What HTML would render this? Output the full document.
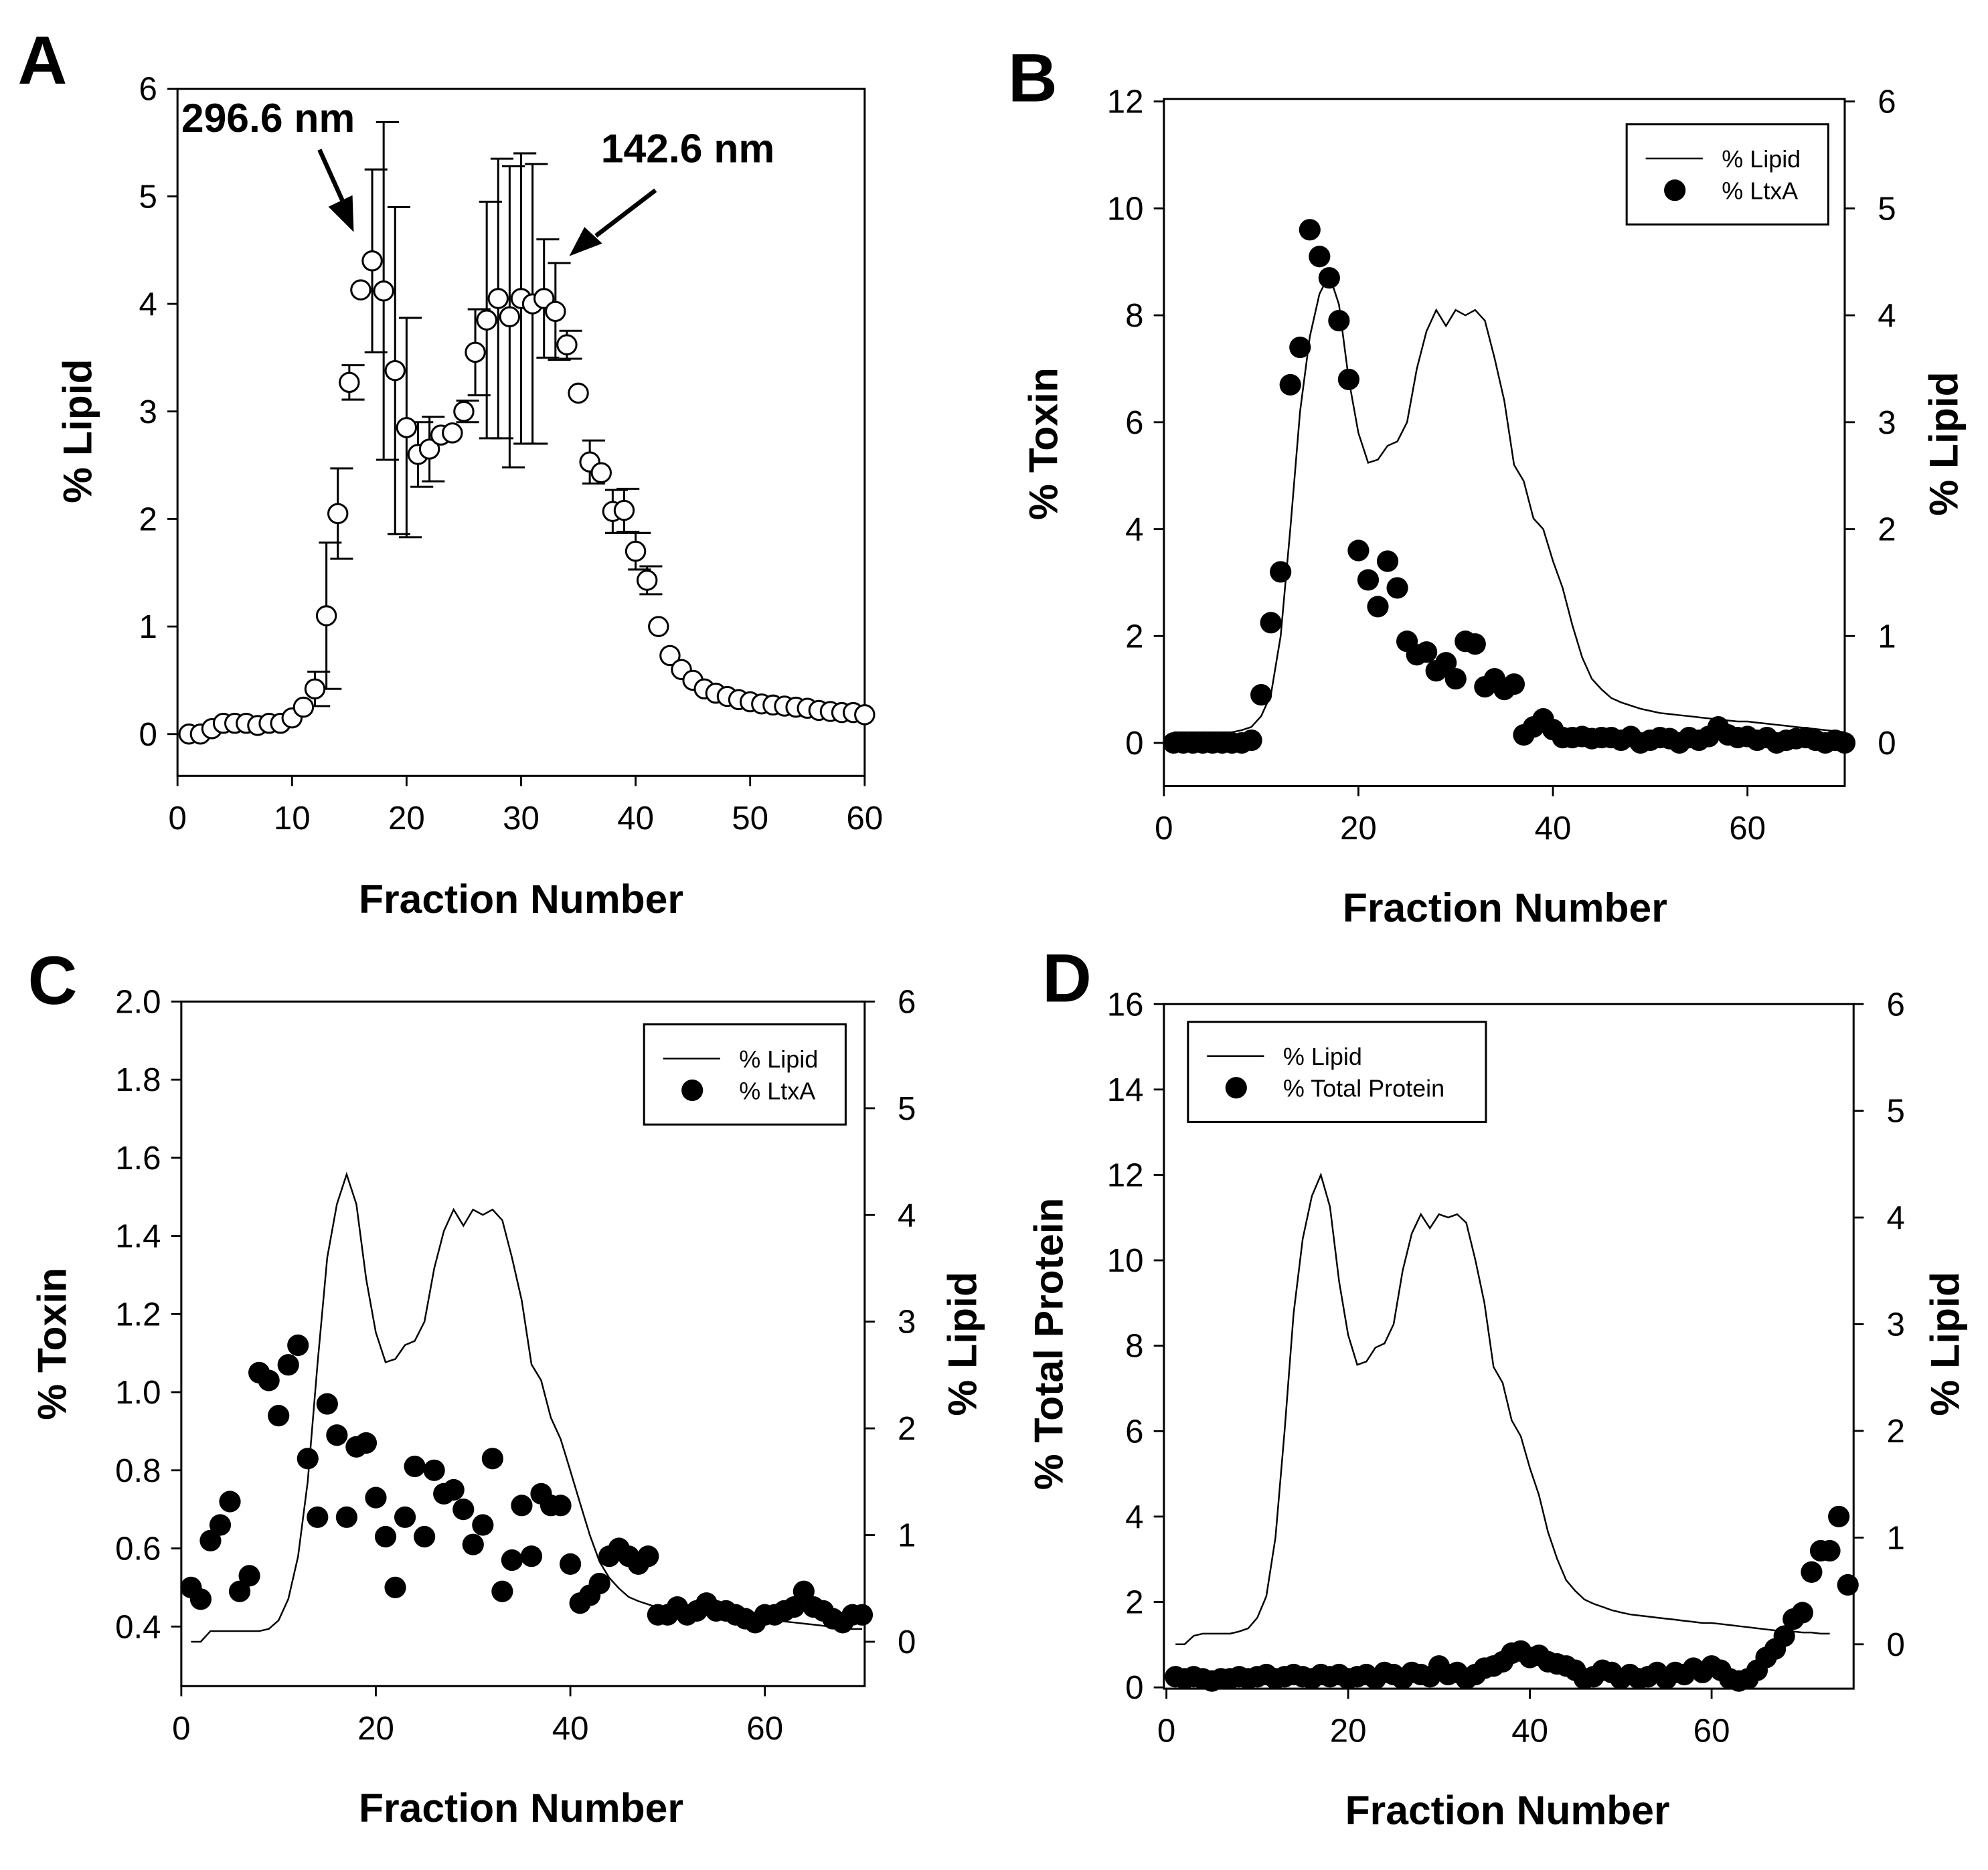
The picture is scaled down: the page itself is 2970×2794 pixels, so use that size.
<!DOCTYPE html>
<html><head><meta charset="utf-8"><style>
html,body{margin:0;padding:0;background:#fff;}
svg{display:block;}
text{font-family:"Liberation Sans",Arial,sans-serif;fill:#000;}
</style></head><body>
<svg id="fig" xmlns="http://www.w3.org/2000/svg" width="2970" height="2794" viewBox="0 0 1568 1475"></svg>
<script>
const fractionsA = Array.from({length:60},(_, i)=>i+1);
const lipidA = [0,0,0.05,0.1,0.1,0.1,0.08,0.1,0.1,0.15,0.25,0.42,1.1,2.05,3.27,4.13,4.4,4.12,3.38,2.85,2.6,2.65,2.78,2.8,3.0,3.55,3.85,4.05,3.88,4.05,4.0,4.05,3.93,3.62,3.17,2.53,2.43,2.07,2.08,1.7,1.43,1.0,0.73,0.6,0.5,0.42,0.38,0.35,0.32,0.3,0.28,0.27,0.26,0.25,0.24,0.22,0.21,0.2,0.2,0.18];
const errA = [0,0,0,0,0,0,0,0,0,0,0,0.16,0.68,0.42,0.16,0,0.85,1.57,1.52,1.02,0.3,0.3,0,0,0.1,0.4,1.1,1.3,1.4,1.35,1.3,0.55,0.45,0.13,0,0.2,0,0.2,0.2,0.17,0.13,0,0,0,0,0,0,0,0,0,0,0,0,0,0,0,0,0,0,0];
const lipidB = [0.1,0.1,0.1,0.1,0.1,0.1,0.1,0.12,0.15,0.25,0.45,1.0,2.0,3.1,3.8,4.2,4.38,4.1,3.4,2.9,2.62,2.65,2.78,2.82,3.0,3.5,3.85,4.05,3.9,4.05,4.0,4.05,3.95,3.6,3.2,2.6,2.45,2.1,2.0,1.7,1.45,1.1,0.8,0.6,0.5,0.42,0.38,0.35,0.32,0.3,0.28,0.27,0.26,0.25,0.24,0.23,0.22,0.21,0.2,0.2,0.19,0.18,0.17,0.16,0.15,0.14,0.13,0.12,0.11,0.1];
const toxinB = [0,0,0,0,0,0,0,0,0.05,0.9,2.25,3.2,6.7,7.4,9.6,9.1,8.7,7.9,6.8,3.6,3.05,2.55,3.4,2.9,1.9,1.65,1.7,1.35,1.5,1.2,1.9,1.85,1.05,1.2,1.0,1.1,0.15,0.3,0.45,0.25,0.1,0.1,0.12,0.08,0.1,0.1,0.05,0.12,0.0,0.05,0.1,0.08,0.0,0.1,0.05,0.12,0.3,0.15,0.1,0.12,0.05,0.1,0.0,0.05,0.08,0.1,0.05,0.0,0.05,0.0];
const lipidC = [0,0,0.1,0.1,0.1,0.1,0.1,0.1,0.12,0.2,0.4,0.8,1.5,2.6,3.6,4.1,4.38,4.1,3.4,2.9,2.62,2.65,2.78,2.82,3.0,3.5,3.85,4.05,3.9,4.05,4.0,4.05,3.95,3.6,3.2,2.6,2.45,2.1,1.9,1.6,1.3,1.0,0.75,0.6,0.5,0.42,0.38,0.35,0.32,0.3,0.28,0.27,0.26,0.25,0.24,0.23,0.22,0.22,0.21,0.2,0.2,0.19,0.18,0.17,0.16,0.15,0.14,0.13,0.12,0.12];
const toxinC = [0.5,0.47,0.62,0.66,0.72,0.49,0.53,1.05,1.03,0.94,1.07,1.12,0.83,0.68,0.97,0.89,0.68,0.86,0.87,0.73,0.63,0.5,0.68,0.81,0.63,0.8,0.74,0.75,0.7,0.61,0.66,0.83,0.49,0.57,0.71,0.58,0.74,0.71,0.71,0.56,0.46,0.48,0.51,0.58,0.6,0.58,0.56,0.58,0.43,0.43,0.45,0.43,0.44,0.46,0.44,0.44,0.43,0.42,0.41,0.43,0.43,0.44,0.45,0.49,0.45,0.44,0.42,0.41,0.43,0.43];
const lipidD = [0,0,0.08,0.1,0.1,0.1,0.1,0.12,0.15,0.25,0.45,1.0,2.0,3.1,3.8,4.2,4.4,4.1,3.4,2.9,2.62,2.65,2.78,2.82,3.0,3.5,3.85,4.03,3.9,4.03,4.0,4.03,3.95,3.6,3.2,2.6,2.45,2.1,1.95,1.65,1.4,1.05,0.8,0.6,0.5,0.42,0.38,0.35,0.32,0.3,0.28,0.27,0.26,0.25,0.24,0.23,0.22,0.21,0.2,0.2,0.19,0.18,0.17,0.16,0.15,0.14,0.13,0.12,0.12,0.11,0.11,0.1,0.1];
const proteinD = [0.25,0.2,0.25,0.2,0.15,0.2,0.2,0.25,0.2,0.25,0.3,0.2,0.25,0.3,0.25,0.2,0.3,0.25,0.3,0.2,0.25,0.3,0.2,0.35,0.3,0.2,0.35,0.3,0.25,0.5,0.3,0.35,0.2,0.3,0.45,0.5,0.6,0.8,0.85,0.7,0.75,0.6,0.55,0.5,0.4,0.2,0.25,0.4,0.35,0.2,0.3,0.2,0.25,0.35,0.2,0.35,0.3,0.45,0.35,0.5,0.4,0.2,0.15,0.2,0.4,0.7,0.9,1.2,1.6,1.75,2.7,3.2,3.2,4.0,2.4];
const ticksA = [0,10,20,30,40,50,60];
const ticksX70 = [0,20,40,60];

const svg = document.getElementById('fig');
const NS = 'http://www.w3.org/2000/svg';
function mk(tag, attrs, parent){ const e=document.createElementNS(NS,tag); for(const k in attrs) e.setAttribute(k,attrs[k]); (parent||svg).appendChild(e); return e; }
function lin(d0,d1,r0,r1){ return v=>r0+(v-d0)*(r1-r0)/(d1-d0); }
function txt(x,y,s,size,opts,parent){ const t=mk('text',Object.assign({x:x,y:y,'font-size':size},opts||{}),parent); t.textContent=s; return t; }

function frame(g,x0,y0,x1,y1){ const r=mk('rect',{x:x0,y:y0,width:x1-x0,height:y1-y0,fill:'none',stroke:'#000','stroke-width':1.6},g);   }
function xTicks(g,xs,ticks,yb){ ticks.forEach(v=>{ mk('line',{x1:xs(v),x2:xs(v),y1:yb,y2:yb+8,stroke:'#000','stroke-width':1.5},g); const t=txt(xs(v),yb+42,String(v),26,{'text-anchor':'middle'},g);   }); }
function yTicks(g,ys,ticks,x,side,fmt){ ticks.forEach(v=>{ const d=side<0?-8:8; mk('line',{x1:x,x2:x+d,y1:ys(v),y2:ys(v),stroke:'#000','stroke-width':1.5},g); const t=txt(side<0?x-16:x+26,ys(v)+9,fmt?fmt(v):String(v),26,{'text-anchor':side<0?'end':'start'},g);   }); }
function titles(g,cx,yb,ylx,yly,ylabel,yrx,yrlabel,letter,lx,ly){
  let t=txt(cx,yb,'Fraction Number',32,{'text-anchor':'middle','font-weight':'bold'},g);  
  t=txt(ylx,yly,ylabel,32,{'text-anchor':'middle','font-weight':'bold',transform:`rotate(-90 ${ylx} ${yly})`},g);  
  if(yrlabel){ t=txt(yrx,yly,yrlabel,32,{'text-anchor':'middle','font-weight':'bold',transform:`rotate(-90 ${yrx} ${yly})`},g);   }
  t=txt(lx,ly,letter,54,{'font-weight':'bold'},g);  
}
function lineSeries(g,xs,ys,vals){ const d=vals.map((v,i)=>(i?'L':'M')+xs(i+1).toFixed(1)+' '+ys(v).toFixed(1)).join(' '); const p=mk('path',{d:d,fill:'none',stroke:'#000','stroke-width':1.3},g);   }
function dots(g,xs,ys,vals,name){ vals.forEach((v,i)=>{ const c=mk('circle',{cx:xs(i+1),cy:ys(v),r:8.5,fill:'#000'},g);   }); }
function legend(g,x,y,w,h,l2){ const r=mk('rect',{x:x,y:y,width:w,height:h,fill:'#fff',stroke:'#000','stroke-width':1.6},g);  
  mk('line',{x1:x+15,x2:x+60,y1:y+27,y2:y+27,stroke:'#000','stroke-width':1.3},g);
  let t=txt(x+75,y+34,'% Lipid',19,{},g);  
  mk('circle',{cx:x+38,cy:y+52,r:8.5,fill:'#000'},g);
  t=txt(x+75,y+59,l2,19,{},g);   }

// Panel A
(function(){ const g=mk('g',{});  
  const xs=lin(0,60,140,682), ys=lin(0,6,579,70);
  frame(g,140,70,682,612); xTicks(g,xs,ticksA,612); yTicks(g,ys,[0,1,2,3,4,5,6],140,-1);
  lipidA.forEach((v,i)=>{ const e=errA[i]; if(e>0){ const x=xs(i+1); mk('line',{x1:x,x2:x,y1:ys(v-e),y2:ys(v+e),stroke:'#000','stroke-width':1.6},g); mk('line',{x1:x-6,x2:x+12,y1:ys(v+e),y2:ys(v+e),stroke:'#000','stroke-width':1.6},g); mk('line',{x1:x-6,x2:x+12,y1:ys(v-e),y2:ys(v-e),stroke:'#000','stroke-width':1.6},g);} });
  lipidA.forEach((v,i)=>{ const c=mk('circle',{cx:xs(fractionsA[i]),cy:ys(v),r:7.5,fill:'#fff',stroke:'#000','stroke-width':1.6},g);   });
  let t=txt(143,104,'296.6 nm',32,{'font-weight':'bold'},g);  
  t=txt(474,128,'142.6 nm',32,{'font-weight':'bold'},g);  
  mk('line',{x1:252,y1:118,x2:270,y2:158,stroke:'#000','stroke-width':3.5},g); mk('polygon',{points:'279,183 259,163 278,154',fill:'#000'},g);
  mk('line',{x1:517,y1:150,x2:470,y2:186,stroke:'#000','stroke-width':3.5},g); mk('polygon',{points:'449,202 461,179 475,192',fill:'#000'},g);
  titles(g,411,720,72,340,'% Lipid',0,null,'A',14,66);
})();
// Panel B
(function(){ const g=mk('g',{});  
  const xs=lin(0,70,918,1455), ys=lin(0,12,586,80), yr=lin(0,6,586,80);
  frame(g,918,78,1455,620); xTicks(g,xs,ticksX70,620); yTicks(g,ys,[0,2,4,6,8,10,12],918,-1); yTicks(g,yr,[0,1,2,3,4,5,6],1455,1);
  lineSeries(g,xs,yr,lipidB); dots(g,xs,ys,toxinB,'toxin-point'); legend(g,1283,98,159,79,'% LtxA');
  titles(g,1187,727,834,350,'% Toxin',1544,'% Lipid','B',795,80);
})();
// Panel C
(function(){ const g=mk('g',{});  
  const xs=lin(0,70,143,680), ys=lin(0.4,2.0,1283,790), yr=lin(0,6,1295,790);
  frame(g,143,790,682,1330); xTicks(g,xs,ticksX70,1330); yTicks(g,ys,[0.4,0.6,0.8,1.0,1.2,1.4,1.6,1.8,2.0],143,-1,v=>v.toFixed(1)); yTicks(g,yr,[0,1,2,3,4,5,6],682,1);
  lineSeries(g,xs,yr,lipidC); dots(g,xs,ys,toxinC,'toxin-point'); legend(g,508,808,159,79,'% LtxA');
  titles(g,411,1437,52,1060,'% Toxin',770,'% Lipid','C',22,792);
})();
// Panel D
(function(){ const g=mk('g',{});  
  const xs=lin(0,60,920,1350), ys=lin(0,16,1331,792), yr=lin(0,6,1297,792);
  frame(g,918,792,1462,1332); xTicks(g,xs,ticksX70,1332); yTicks(g,ys,[0,2,4,6,8,10,12,14,16],918,-1); yTicks(g,yr,[0,1,2,3,4,5,6],1462,1);
  lineSeries(g,xs,yr,lipidD); dots(g,xs,ys,proteinD,'protein-point'); legend(g,937,806,235,79,'% Total Protein');
  titles(g,1189,1439,838,1060,'% Total Protein',1545,'% Lipid','D',822,790);
})();
</script>
</body></html>
